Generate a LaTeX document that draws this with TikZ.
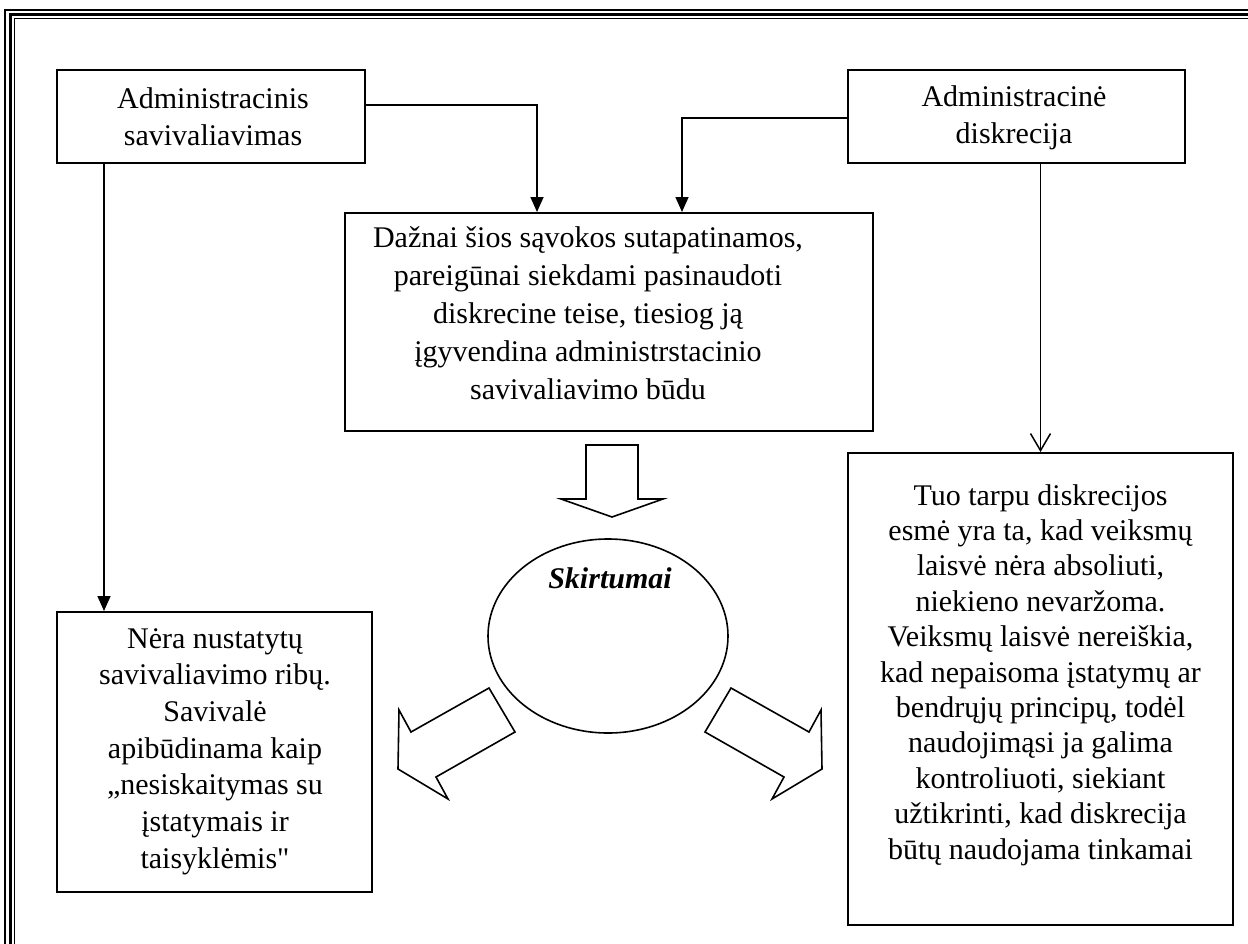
\documentclass[tikz,border=0pt]{standalone}
\usepackage{fontspec}
\setmainfont{Liberation Serif}
\usetikzlibrary{arrows.meta,shapes.geometric}
\tikzset{
  box/.style={draw, line width=2pt, rectangle, inner sep=0pt},
  txt/.style={align=center, inner sep=0pt, font=\fontsize{30}{36.7}\selectfont},
  conn/.style={line width=1.6pt},
  tri/.style={conn, -{Triangle[width=13pt,length=15pt]}},
  vee/.style={conn, -{Straight Barb[width=20pt,length=17pt,line width=1.5pt]}},
  hollow/.style={draw, line width=1.6pt, line join=miter, fill=white},
}
\begin{document}
\begin{tikzpicture}[x=1pt,y=-1pt]
\useasboundingbox (0,0) rectangle (1248,943);
\clip (0,0) rectangle (1248,943);
% outer frame
\draw[line width=1.2pt] (5,10) rectangle (1400,1100);
\draw[line width=3pt] (10.5,14.5) rectangle (1400,1100);
\draw[line width=1.2pt] (14.5,18.5) rectangle (1400,1100);

% boxes
\node[box, minimum width=308pt, minimum height=93pt] (a) at (211,116.5) {};
\node[txt] (at) at (213,117) {Administracinis\\savivaliavimas};
\node[box, minimum width=337pt, minimum height=93pt] (b) at (1016.5,116.5) {};
\node[txt] (bt) at (1014,118) {Administracinė\\diskrecija};
\node[box, minimum width=528pt, minimum height=218pt] (c) at (609,322) {};
\node[txt, anchor=north, font=\fontsize{30}{38}\selectfont] (ct) at (588,226) {Dažnai šios sąvokos sutapatinamos,\\pareigūnai siekdami pasinaudoti\\diskrecine teise, tiesiog ją\\įgyvendina administrstacinio\\savivaliavimo būdu};
\node[box, minimum width=315pt, minimum height=280pt] (e) at (214.5,752) {};
\node[txt, anchor=north] (et) at (215,628) {Nėra nustatytų\\savivaliavimo ribų.\\Savivalė\\apibūdinama kaip\\„nesiskaitymas su\\įstatymais ir\\taisyklėmis\textquotedbl};
\node[box, minimum width=385pt, minimum height=472pt] (d) at (1040.5,689) {};
\node[txt, anchor=north, font=\fontsize{30}{35.4}\selectfont] (dt) at (1040.5,484) {Tuo tarpu diskrecijos\\esmė yra ta, kad veiksmų\\laisvė nėra absoliuti,\\niekieno nevaržoma.\\Veiksmų laisvė nereiškia,\\kad nepaisoma įstatymų ar\\bendrųjų principų, todėl\\naudojimąsi ja galima\\kontroliuoti, siekiant\\užtikrinti, kad diskrecija\\būtų naudojama tinkamai};

% ellipse
\node[draw, ellipse, line width=1.6pt, minimum width=240pt, minimum height=194pt, inner sep=0pt] (s) at (608,636) {};
\node[txt, font=\fontsize{30}{35}\selectfont\bfseries\itshape] (st) at (610,578) {Skirtumai};

% connectors
\draw[tri] ([yshift=11.5pt]a.east) -| ([xshift=-72pt]c.north);
\draw[tri] ([yshift=-1.5pt]b.west) -| ([xshift=73pt]c.north);
\draw[vee] (b.south -| d.north) -- (d.north);
\draw[tri] ([xshift=-107pt]a.south) -- ([xshift=-107pt]a.south |- e.north);

% hollow block arrows
\draw[hollow] (586,445) -- (638,445) -- (638,499) -- (663,499) -- (612,517) -- (561,499) -- (586,499) -- cycle;
\draw[hollow] (731,688) -- (809,732) -- (821,710) -- (822,769) -- (772,799) -- (784,777) -- (705,732) -- cycle;
\draw[hollow] (489,688) -- (411,732) -- (399,710) -- (398,769) -- (448,799) -- (436,777) -- (515,732) -- cycle;
\end{tikzpicture}
\end{document}
